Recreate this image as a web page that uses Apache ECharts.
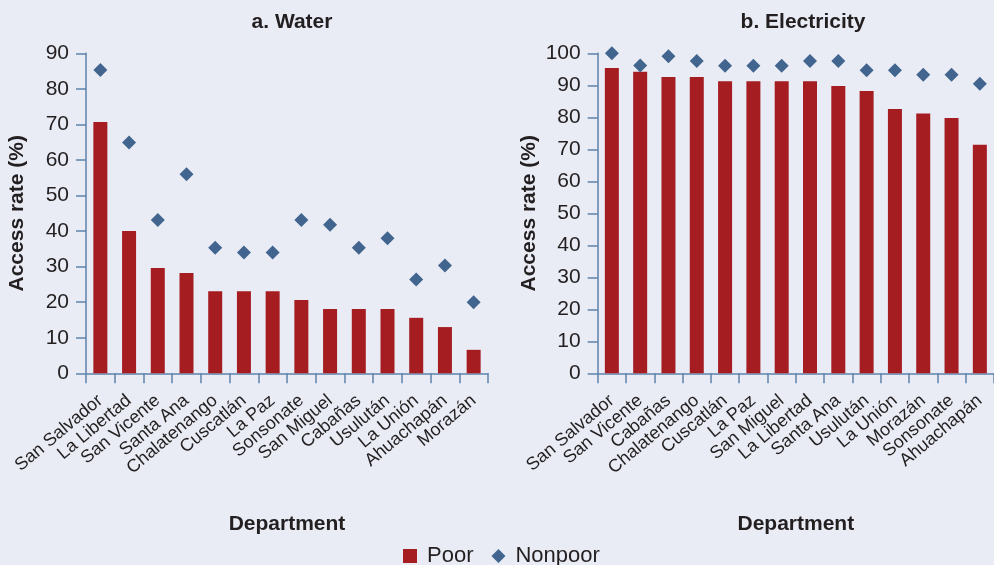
<!DOCTYPE html>
<html>
<head>
<meta charset="utf-8">
<script src="https://cdn.jsdelivr.net/npm/echarts@6/dist/echarts.min.js"></script>
<style>
html,body{margin:0;padding:0;background:#E9ECF4;}
#c{width:994px;height:565px;}
</style>
</head>
<body>
<div id="c"></div>
<script>
var waterCategories = ['San Salvador','La Libertad','San Vicente','Santa Ana','Chalatenango','Cuscatlán','La Paz','Sonsonate','San Miguel','Cabañas','Usulután','La Unión','Ahuachapán','Morazán'];
var waterPoor = [70.7, 40.0, 29.6, 28.2, 23.1, 23.1, 23.1, 20.6, 18.1, 18.1, 18.1, 15.6, 13.0, 6.6];
var waterNonpoor = [85.3, 64.9, 43.1, 56.0, 35.3, 34.0, 34.0, 43.1, 41.8, 35.3, 38.0, 26.4, 30.3, 20.0];

var elecCategories = ['San Salvador','San Vicente','Cabañas','Chalatenango','Cuscatlán','La Paz','San Miguel','La Libertad','Santa Ana','Usulután','La Unión','Morazán','Sonsonate','Ahuachapán'];
var elecPoor = [95.4, 94.2, 92.6, 92.6, 91.3, 91.3, 91.3, 91.3, 89.8, 88.2, 82.6, 81.2, 79.8, 71.4];
var elecNonpoor = [100, 96.2, 99.1, 97.6, 96.1, 96.1, 96.1, 97.6, 97.6, 94.7, 94.7, 93.3, 93.3, 90.5];

var waterTicks = {min: 0, max: 90, interval: 10};
var elecTicks = {min: 0, max: 100, interval: 10};

var FONT = '"Liberation Sans", Arial, sans-serif';
var TXT = '#231F20';
var AX = '#5F82AC';
var RED = '#A51C21';
var BLUE = '#41658F';

function xAxis(idx, cats) {
  return {
    type: 'category', gridIndex: idx, data: cats,
    boundaryGap: true,
    axisLine: {lineStyle: {color: AX, width: 1.5}},
    axisTick: {show: true, length: 10, alignWithLabel: false, lineStyle: {color: AX, width: 1.5}},
    axisLabel: {rotate: 40, interval: 0, color: TXT, fontSize: 18, fontFamily: FONT, margin: 25},
    name: 'Department', nameLocation: 'middle', nameGap: 140,
    nameTextStyle: {fontSize: 21, fontWeight: 'bold', color: TXT, fontFamily: FONT}
  };
}
function yAxis(idx, t) {
  return {
    type: 'value', gridIndex: idx, min: t.min, max: t.max, interval: t.interval,
    splitLine: {show: false},
    axisLine: {show: true, lineStyle: {color: AX, width: 1.5}},
    axisTick: {show: true, length: 10, lineStyle: {color: AX, width: 1.5}},
    axisLabel: {color: TXT, fontSize: 21, fontFamily: FONT, margin: 17},
    name: 'Access rate (%)', nameLocation: 'middle', nameGap: 58,
    nameTextStyle: {fontSize: 21, fontWeight: 'bold', color: TXT, fontFamily: FONT}
  };
}

var chart = echarts.init(document.getElementById('c'));
chart.setOption({
  backgroundColor: '#E9ECF4',
  animation: false,
  title: [
    {text: 'a. Water', left: 287, top: 7, textAlign: 'center',
     textStyle: {fontSize: 21, fontWeight: 'bold', color: TXT, fontFamily: FONT}},
    {text: 'b. Electricity', left: 798, top: 7, textAlign: 'center',
     textStyle: {fontSize: 21, fontWeight: 'bold', color: TXT, fontFamily: FONT}}
  ],
  legend: {
    top: 540, left: 398, itemGap: 18, itemWidth: 14, itemHeight: 14,
    textStyle: {fontSize: 22, color: TXT, fontFamily: FONT, padding: [0, 0, 0, 5]},
    data: [{name: 'Poor', icon: 'rect'}, {name: 'Nonpoor', icon: 'diamond'}]
  },
  grid: [
    {left: 86, top: 53.3, width: 402, bottom: 191.7},
    {left: 597.7, top: 53.3, width: 402, bottom: 191.7}
  ],
  xAxis: [xAxis(0, waterCategories), xAxis(1, elecCategories)],
  yAxis: [yAxis(0, waterTicks), yAxis(1, elecTicks)],
  series: [
    {name: 'Poor', type: 'bar', xAxisIndex: 0, yAxisIndex: 0, data: waterPoor, barWidth: 14, itemStyle: {color: RED, opacity: 1}},
    {name: 'Nonpoor', type: 'scatter', xAxisIndex: 0, yAxisIndex: 0, data: waterNonpoor, symbol: 'diamond', symbolSize: 14, itemStyle: {color: BLUE, opacity: 1}},
    {name: 'Poor', type: 'bar', xAxisIndex: 1, yAxisIndex: 1, data: elecPoor, barWidth: 14, itemStyle: {color: RED, opacity: 1}},
    {name: 'Nonpoor', type: 'scatter', xAxisIndex: 1, yAxisIndex: 1, data: elecNonpoor, symbol: 'diamond', symbolSize: 14, itemStyle: {color: BLUE, opacity: 1}}
  ]
});
</script>
</body>
</html>
